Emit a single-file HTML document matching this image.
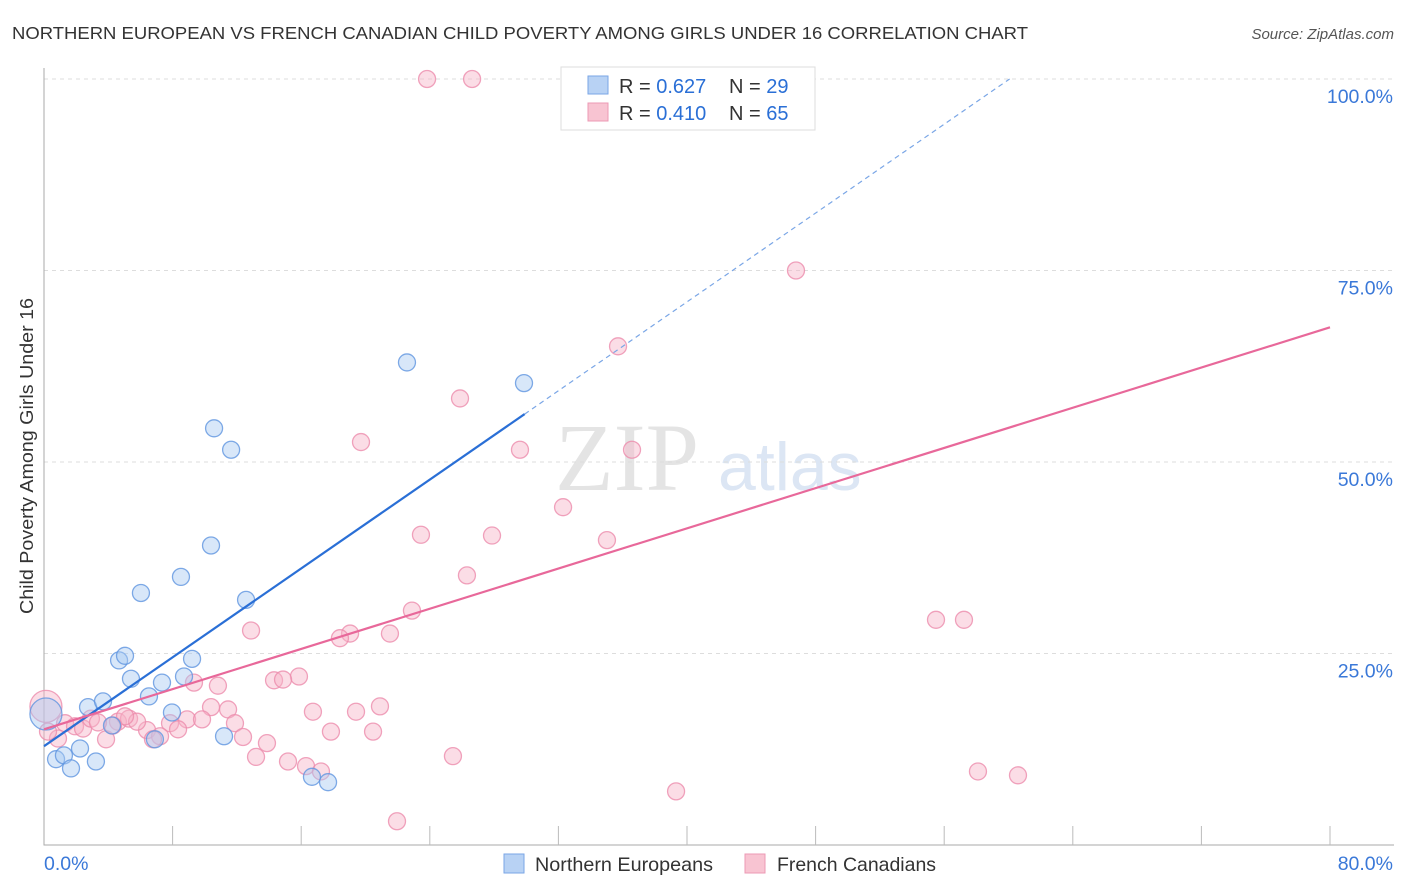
<!DOCTYPE html>
<html><head><meta charset="utf-8"><style>
body{margin:0;background:#fff;font-family:"Liberation Sans",sans-serif;}
svg{display:block}
</style></head><body>
<svg id="chart" width="1406" height="892" xmlns="http://www.w3.org/2000/svg">
<text x="12" y="39" font-size="17.5" fill="#333" textLength="1016" lengthAdjust="spacingAndGlyphs">NORTHERN EUROPEAN VS FRENCH CANADIAN CHILD POVERTY AMONG GIRLS UNDER 16 CORRELATION CHART</text>
<text x="1394" y="39" font-size="15" fill="#555" text-anchor="end" font-style="italic">Source: ZipAtlas.com</text>
<text x="555" y="490" font-size="96" fill="#e4e4e4" font-family="Liberation Serif,serif">ZIP</text>
<text x="718" y="490" font-size="68" fill="#dce6f4">atlas</text>
<g id="grid"></g>
<g id="axes"></g>
<g id="marks"></g>
<text transform="translate(33,456) rotate(-90)" font-size="18" fill="#333" text-anchor="middle" textLength="316" lengthAdjust="spacingAndGlyphs">Child Poverty Among Girls Under 16</text>
<g>
<rect x="561" y="67" width="254" height="63" fill="#fff" stroke="#ddd"/>
<rect x="588" y="76" width="20" height="18" fill="#b8d2f4" stroke="#7aa6e6"/>
<rect x="588" y="103" width="20" height="18" fill="#f8c4d2" stroke="#ec9ab4"/>
<text x="619" y="93" font-size="20" fill="#333">R = <tspan fill="#2a6fd6">0.627</tspan></text>
<text x="729" y="93" font-size="20" fill="#333">N = <tspan fill="#2a6fd6">29</tspan></text>
<text x="619" y="120" font-size="20" fill="#333">R = <tspan fill="#2a6fd6">0.410</tspan></text>
<text x="729" y="120" font-size="20" fill="#333">N = <tspan fill="#2a6fd6">65</tspan></text>
</g>
<g>
<rect x="504" y="854" width="20" height="19" fill="#b8d2f4" stroke="#7aa6e6"/>
<text x="535" y="871" font-size="19.5" fill="#333" textLength="178" lengthAdjust="spacingAndGlyphs">Northern Europeans</text>
<rect x="745" y="854" width="20" height="19" fill="#f8c4d2" stroke="#ec9ab4"/>
<text x="777" y="871" font-size="19.5" fill="#333" textLength="159" lengthAdjust="spacingAndGlyphs">French Canadians</text>
</g>
</svg>
<script>
const xTicks=[0,8,16,24,32,40,48,56,64,72,80];
const yTicks=[25,50,75,100];
const yTickLabels=["25.0%","50.0%","75.0%","100.0%"];
const xEndLabels=["0.0%","80.0%"];
const blueX=[0.75,1.24,1.68,2.24,2.74,3.23,3.67,4.23,4.67,5.04,5.41,6.03,6.53,6.9,7.34,7.96,8.52,8.71,9.21,10.39,10.58,11.2,11.64,12.57,16.67,17.67,22.58,29.86,0.12];
const blueY=[11.2,11.7,10.0,12.6,18.0,10.9,18.75,15.6,24.1,24.7,21.7,32.9,19.4,13.8,21.2,17.3,35.0,22.0,24.3,39.1,54.4,14.2,51.6,32.0,8.9,8.2,63.0,60.3,17.1];
const pinkX=[23.83,26.63,46.78,35.71,25.88,19.72,29.61,36.58,32.29,23.45,27.87,35.02,26.31,22.89,12.88,19.04,18.41,21.52,55.49,57.23,15.86,14.31,14.87,9.33,10.82,16.73,19.41,20.9,10.39,11.45,8.9,9.83,11.88,7.84,17.85,20.47,6.41,7.22,8.34,12.38,3.86,6.78,13.87,13.19,15.18,16.3,17.23,25.44,58.1,60.59,39.32,21.96,1.31,1.93,2.43,2.92,4.6,5.29,5.79,5.04,4.29,0.87,0.25,3.36,0.12];
const pinkY=[100,100,75.0,65.1,58.3,52.6,51.6,51.6,44.1,40.5,40.4,39.8,35.2,30.6,28.0,27.6,27.0,27.6,29.4,29.4,22.0,21.5,21.6,21.2,20.8,17.4,17.4,18.1,18.0,17.7,16.4,16.4,15.9,15.9,14.8,14.8,15.0,14.2,15.1,14.1,13.8,13.8,13.3,11.5,10.9,10.3,9.6,11.6,9.6,9.1,7.0,3.1,15.9,15.5,15.2,16.5,16.1,16.5,16.1,16.8,15.6,13.9,14.8,16.0,18.1];
const blueFit=[12.9,1.45];
const pinkFit=[15.1,0.656];
const NS="http://www.w3.org/2000/svg";
const X=v=>44+v*16.075, Y=v=>845-v*7.66;
function mk(tag,attrs,parent){const e=document.createElementNS(NS,tag);for(const k in attrs)e.setAttribute(k,attrs[k]);parent.appendChild(e);return e;}
const grid=document.getElementById('grid'),axes=document.getElementById('axes'),marks=document.getElementById('marks');
yTicks.forEach((t,i)=>{
 const l=mk('line',{x1:44,x2:1394,y1:Y(t),y2:Y(t),stroke:'#ddd','stroke-dasharray':'4,4'},grid);
 
 
 const tx=mk('text',{x:1393,y:Y(t)+24,'font-size':19.5,fill:'#3a78d8','text-anchor':'end'},axes);
 tx.textContent=yTickLabels[i];
 
 
});
const ax=mk('path',{d:`M44 68 V845 H1394`,stroke:'#aaa',fill:'none'},axes);


xTicks.forEach(t=>{if(t===0)return;
 const l=mk('line',{x1:X(t),x2:X(t),y1:826,y2:845,stroke:'#bbb'},axes);
 
 
});
[[44,'start',xEndLabels[0]],[1393,'end',xEndLabels[1]]].forEach(a=>{
 const tx=mk('text',{x:a[0],y:870,'font-size':19.5,fill:'#3a78d8','text-anchor':a[1]},axes);
 tx.textContent=a[2];
 
 
});
function dots(xs,ys,fill,stroke,name,bigIdx){
 xs.forEach((x,i)=>{const r=i===bigIdx?16:8.5;
  const c=mk('circle',{cx:X(x),cy:Y(ys[i]),r:r,fill:fill,'fill-opacity':0.45,stroke:stroke,'stroke-opacity':0.8,'stroke-width':1.3},marks);
  
  
 });
}
dots(pinkX,pinkY,'#f6b4c8','#ec8cac','point-french-canadian',pinkX.length-1);
dots(blueX,blueY,'#a9c9f2','#5f95e0','point-northern-european',blueX.length-1);
const bx2=29.9,bx3=(100-blueFit[0])/blueFit[1];
const b1=mk('line',{x1:X(0),y1:Y(blueFit[0]),x2:X(bx2),y2:Y(blueFit[0]+blueFit[1]*bx2),stroke:'#2a6fd6','stroke-width':2.2},marks);


const b2=mk('line',{x1:X(bx2),y1:Y(blueFit[0]+blueFit[1]*bx2),x2:X(bx3),y2:Y(100),stroke:'#7aa6e6','stroke-width':1.2,'stroke-dasharray':'5,4'},marks);


const p1=mk('line',{x1:X(0),y1:Y(pinkFit[0]),x2:X(80),y2:Y(pinkFit[0]+pinkFit[1]*80),stroke:'#e8689a','stroke-width':2.2},marks);


</script>
</body></html>
